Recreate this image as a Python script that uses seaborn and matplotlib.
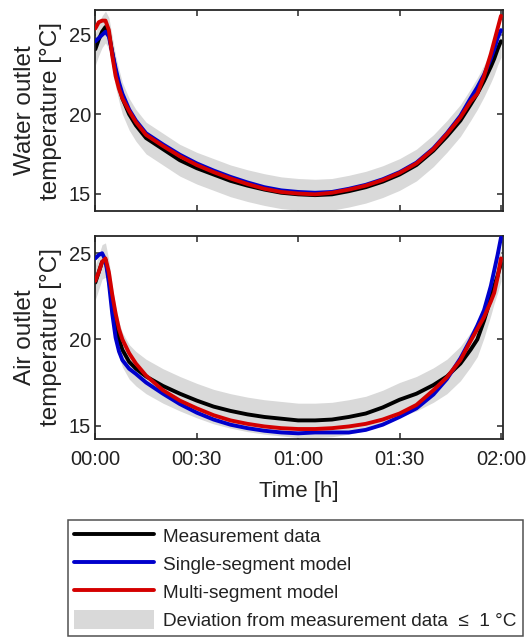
import numpy as np
import pandas as pd
import seaborn as sns
import matplotlib.pyplot as plt
from matplotlib.lines import Line2D
from matplotlib.patches import Patch

# time axis in minutes
time_min = [0, 1, 2, 3, 4, 5, 6, 7, 8, 10, 12, 15, 20, 25, 30, 35, 40, 45, 50,
            55, 60, 65, 70, 75, 80, 85, 90, 95, 100, 104, 108, 111, 113, 115,
            117, 118, 119, 120]

# water outlet temperature [°C]
water_meas = [24.1, 24.7, 25.2, 25.5, 25.1, 23.9, 22.7, 21.8, 21.0, 20.0, 19.3,
              18.5, 17.8, 17.1, 16.6, 16.2, 15.8, 15.5, 15.25, 15.05, 14.95,
              14.9, 14.95, 15.15, 15.4, 15.75, 16.2, 16.8, 17.7, 18.6, 19.6,
              20.6, 21.3, 22.1, 23.0, 23.5, 24.1, 24.6]
water_single = [24.6, 24.8, 25.0, 25.2, 24.9, 23.9, 22.9, 22.0, 21.3, 20.3, 19.6,
                18.8, 18.1, 17.45, 16.9, 16.45, 16.05, 15.7, 15.4, 15.2, 15.1,
                15.05, 15.1, 15.3, 15.55, 15.9, 16.35, 16.95, 17.85, 18.8, 19.9,
                21.0, 21.7, 22.5, 23.5, 24.1, 24.8, 25.3]
water_multi = [25.4, 25.8, 25.9, 25.9, 25.3, 23.7, 22.4, 21.6, 21.0, 20.2, 19.5,
               18.7, 18.0, 17.35, 16.8, 16.35, 15.95, 15.6, 15.3, 15.1, 15.0,
               14.95, 15.05, 15.25, 15.5, 15.85, 16.3, 16.9, 17.8, 18.75, 19.8,
               20.8, 21.3, 22.4, 23.8, 24.6, 25.4, 26.2]

# air outlet temperature [°C]
air_meas = [23.3, 23.9, 24.5, 24.6, 23.6, 22.1, 20.9, 20.0, 19.4, 18.7, 18.3,
            17.85, 17.3, 16.85, 16.45, 16.1, 15.85, 15.65, 15.5, 15.4, 15.3,
            15.3, 15.35, 15.5, 15.7, 16.05, 16.5, 16.85, 17.35, 17.85, 18.6,
            19.4, 20.0, 21.1, 22.4, 23.1, 23.7, 24.4]
air_single = [24.7, 24.9, 25.0, 24.6, 23.3, 21.5, 20.1, 19.3, 18.8, 18.3, 18.0,
              17.5, 16.85, 16.25, 15.75, 15.35, 15.05, 14.85, 14.7, 14.6, 14.55,
              14.6, 14.6, 14.6, 14.75, 15.05, 15.5, 16.0, 16.8, 17.7, 18.9,
              20.0, 20.8, 21.7, 23.1, 24.0, 24.9, 25.9]
air_multi = [23.4, 23.9, 24.5, 24.7, 23.9, 22.6, 21.5, 20.6, 20.0, 19.2, 18.6,
             17.9, 17.05, 16.45, 16.0, 15.6, 15.3, 15.1, 14.95, 14.85, 14.8,
             14.8, 14.85, 14.95, 15.1, 15.35, 15.7, 16.2, 17.05, 17.8, 18.8,
             19.9, 20.6, 21.3, 22.2, 22.7, 23.6, 24.7]

tolerance = 1.0
x_ticks = [0, 30, 60, 90, 120]
x_tick_labels = ['00:00', '00:30', '01:00', '01:30', '02:00']
y_ticks = [15, 20, 25]

sns.set_style('ticks')
plt.rcParams['font.family'] = ['Liberation Sans', 'DejaVu Sans']

TXT = '#222222'
C_MEAS = '#000000'
C_SINGLE = '#0000cc'
C_MULTI = '#d40000'
C_BAND = '#d9d9d9'
LW = 2.8

fig = plt.figure(figsize=(5.27, 6.39), dpi=100)
ax_w = fig.add_axes([95 / 527, 1 - 211 / 639, 408 / 527, 201 / 639])
ax_a = fig.add_axes([95 / 527, 1 - 438.5 / 639, 408 / 527, 202.5 / 639])


def draw_panel(ax, meas, single, multi, ylabel, ylim):
    df = pd.DataFrame({'t': time_min, 'meas': meas, 'single': single, 'multi': multi})
    ax.fill_between(df['t'], df['meas'] - tolerance, df['meas'] + tolerance,
                    color=C_BAND, lw=0, zorder=1)
    sns.lineplot(data=df, x='t', y='meas', color=C_MEAS, lw=LW, ax=ax, zorder=2)
    sns.lineplot(data=df, x='t', y='single', color=C_SINGLE, lw=LW, ax=ax, zorder=3)
    sns.lineplot(data=df, x='t', y='multi', color=C_MULTI, lw=LW, ax=ax, zorder=4)
    ax.set_xlim(-0.1, 120.6)
    ax.set_ylim(*ylim)
    ax.set_xticks(x_ticks)
    ax.set_yticks(y_ticks)
    ax.set_xlabel('')
    ax.set_ylabel(ylabel, fontsize=17.5, color=TXT)
    ax.yaxis.set_label_coords(-0.082, 0.5)
    ax.tick_params(direction='in', top=True, right=True, length=4, width=1.1,
                   labelsize=14.5, labelcolor=TXT, pad=3)
    ax.tick_params(axis='x', pad=8)
    for sp in ax.spines.values():
        sp.set_linewidth(1.3)
        sp.set_color('#262626')


draw_panel(ax_w, water_meas, water_single, water_multi,
           'Water outlet\ntemperature [°C]', (13.9, 26.57))
draw_panel(ax_a, air_meas, air_single, air_multi,
           'Air outlet\ntemperature [°C]', (14.25, 26.0))

ax_w.set_xticklabels([])
ax_a.set_xticklabels(x_tick_labels)
ax_a.set_xlabel('Time [h]', fontsize=16, color=TXT, labelpad=9)

handles = [
    Line2D([], [], color=C_MEAS, lw=LW),
    Line2D([], [], color=C_SINGLE, lw=LW),
    Line2D([], [], color=C_MULTI, lw=LW),
    Patch(facecolor=C_BAND, edgecolor='none'),
]
labels = ['Measurement data', 'Single-segment model', 'Multi-segment model',
          'Deviation from measurement data  \u2264  1 °C']
leg = fig.legend(handles, labels, loc='upper left', mode='expand',
                 bbox_to_anchor=(68 / 527, 0, 455 / 527, 1 - 520 / 639),
                 borderaxespad=0, fontsize=13.7, frameon=True, fancybox=False,
                 edgecolor='#262626', handlelength=4.2, handleheight=1.2,
                 handletextpad=0.45, labelspacing=0.4, borderpad=0.33)
leg.get_frame().set_linewidth(1.1)
for txt in leg.get_texts():
    txt.set_color(TXT)

fig.savefig('out.png', dpi=100)
